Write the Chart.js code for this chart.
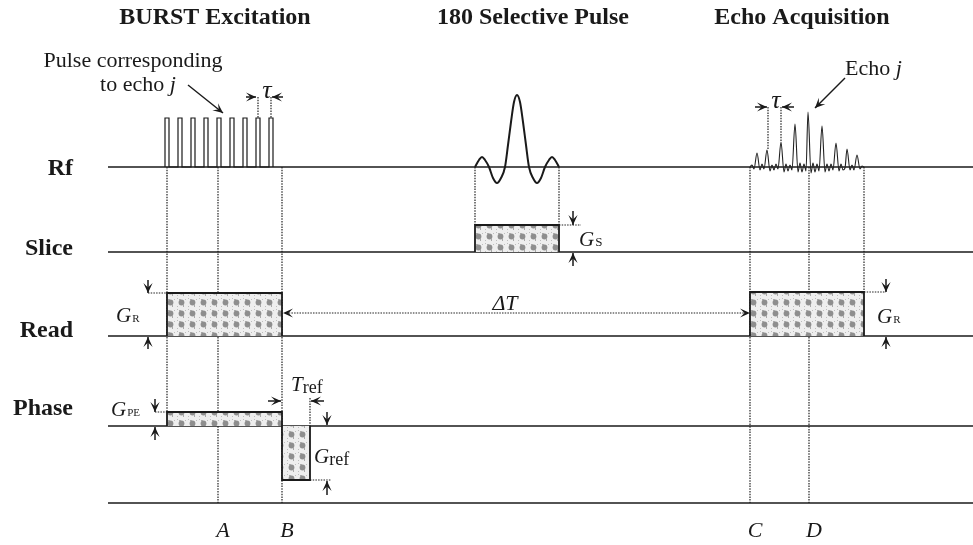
<!DOCTYPE html>
<html>
<head>
<meta charset="utf-8">
<script src="https://cdn.jsdelivr.net/npm/chart.js@4.4.0/dist/chart.umd.min.js"></script>
<style>
  html, body { margin: 0; padding: 0; background: #fff; }
  #wrap { width: 973px; height: 545px; }
</style>
</head>
<body>
<div id="wrap"><canvas id="seqChart"></canvas></div>
<script>
// ---- data (time axis in arbitrary units) ----
const titles = ["BURST Excitation", "180 Selective Pulse", "Echo Acquisition"];
const channels = ["Rf", "Slice", "Read", "Phase"];
const markerLabels = ["A", "B", "C", "D"];
const markerTimes = [218, 282, 750, 809];

// BURST train: 9 hard pulses
const burstTimes = [167, 180, 193, 206, 219, 232, 245, 258, 271];
const burstAmp = 49;

// 180 selective (sinc) pulse
const sincTimes = [475, 479, 482, 485, 489, 493, 497, 501, 505, 508, 511, 514, 517, 520, 523, 526, 529, 533, 537, 541, 545, 549, 552, 555, 559];
const sincAmp =   [0,   7,   10,  7,   0,   -11, -16, -11, 0,   22,  45,  65,  72,  65,  45,  22,  0,   -11, -16, -11, 0,   7,   10,  7,   0];

// echo train
const echoTimes = [750, 752, 754, 757, 760, 762, 764, 767, 770, 772, 774, 776, 778, 781, 784, 786, 788, 790, 792, 795, 798, 800, 802, 804, 806, 808, 811, 813, 815, 817, 819, 822, 825, 827, 829, 831, 833, 836, 839, 841, 843, 845, 847, 850, 852, 854, 857, 860, 862, 864];
const echoAmp =   [0,   2,   -2,  14,  -3,  3,   -2,  17,  -4,  2,   -3,  3,   -2,  25,  -5,  3,   -4,  2,   -3,  43,  -5,  4,   -5,  3,   -4,  55,  -6,  4,   -5,  3,   -4,  41,  -5,  3,   -4,  3,   -3,  24,  -4,  3,   -3,  -1,  18,  -3,  2,   -3,  12,  -2,  1,   0];

// gradient lobes: [start, end, amplitude]
const sliceLobes = [[475, 559, 27]];
const readLobes = [[167, 282, 43], [750, 864, 44]];
const phaseLobes = [[167, 282, 14], [282, 310, -54]];

// ---- layout ----
const L = { rf: 167, slice: 252, read: 336, phase: 426, axis: 503, x0: 108, x1: 973 };
const serif = '"Liberation Serif", "Times New Roman", serif';
const ink = "#1a1a1a";

const ctx = document.getElementById("seqChart").getContext("2d");

function makeStipple() {
  const c = document.createElement("canvas");
  c.width = 11; c.height = 11;
  const g = c.getContext("2d");
  g.fillStyle = "#eeeeee";
  g.fillRect(0, 0, 11, 11);
  g.fillStyle = "#8e8e8e";
  g.beginPath();
  g.arc(5.5, 5.5, 2.9, 0, Math.PI * 2);
  g.fill();
  g.fillStyle = "#a8a8a8";
  g.fillRect(3, 2, 2, 1);
  g.fillRect(7, 8, 1, 2);
  g.fillStyle = "#bdbdbd";
  g.fillRect(1, 1, 1, 1);
  g.fillRect(9, 2, 1, 1);
  g.fillRect(1, 9, 1, 1);
  return ctx.createPattern(c, "repeat");
}
const stipple = makeStipple();

const datasets = [];

function lobeSet(lobes, base) {
  lobes.forEach(([t0, t1, a]) => {
    datasets.push({
      data: [{ x: t0, y: base }, { x: t0, y: base - a }, { x: t1, y: base - a }, { x: t1, y: base }],
      borderColor: ink, borderWidth: 1.8, backgroundColor: stipple,
      fill: { value: base }, tension: 0, order: 1
    });
  });
}
lobeSet(sliceLobes, L.slice);
lobeSet(readLobes, L.read);
lobeSet(phaseLobes, L.phase);

// burst pulses
const burstPts = [];
burstTimes.forEach(t => {
  burstPts.push({ x: t - 2, y: L.rf }, { x: t - 2, y: L.rf - burstAmp },
                { x: t + 2, y: L.rf - burstAmp }, { x: t + 2, y: L.rf });
});
datasets.push({ data: burstPts, borderColor: ink, borderWidth: 1.2, fill: false, tension: 0, order: 1 });

// sinc pulse
datasets.push({
  data: sincTimes.map((t, i) => ({ x: t, y: L.rf - sincAmp[i] })),
  borderColor: ink, borderWidth: 2, fill: false, cubicInterpolationMode: "monotone", order: 1
});

// echoes
datasets.push({
  data: echoTimes.map((t, i) => ({ x: t, y: L.rf - echoAmp[i] })),
  borderColor: "#222", borderWidth: 1.1, fill: false, cubicInterpolationMode: "monotone", order: 1
});

// channel baselines
[L.rf, L.slice, L.read, L.phase, L.axis].forEach(y => {
  datasets.push({ data: [{ x: L.x0, y: y }, { x: L.x1, y: y }], borderColor: ink, borderWidth: 1.6, fill: false, order: 3 });
});

// dotted guides
const vGuides = [
  [167, L.rf, L.phase - 14],
  [218, L.rf, L.axis],
  [282, L.rf, L.axis],
  [475, L.rf, L.slice - 27],
  [559, L.rf, L.slice - 27],
  [750, L.rf, L.axis],
  [809, L.rf, L.axis],
  [864, L.rf, L.read - 44],
  [258, 97, 118], [271, 97, 118],
  [768, 107, 150], [781, 107, 142],
  [310, 398, L.phase]
];
const hGuides = [
  [293, 148, 167], [292, 864, 886], [412, 155, 167],
  [225, 559, 581], [480, 310, 331], [313, 286, 747]
];
vGuides.forEach(([t, y0, y1]) => {
  datasets.push({ data: [{ x: t, y: y0 }, { x: t, y: y1 }], borderColor: "#222", borderWidth: 1.2, borderDash: [1.5, 1.2], fill: false, order: 5 });
});
hGuides.forEach(([y, t0, t1]) => {
  datasets.push({ data: [{ x: t0, y: y }, { x: t1, y: y }], borderColor: "#222", borderWidth: 1.2, borderDash: [1.5, 1.2], fill: false, order: 5 });
});

// arrows: from -> to (head at "to")
const arrows = [
  { f: [148, 280], t: [148, 293] }, { f: [148, 349], t: [148, 337] },
  { f: [886, 279], t: [886, 292] }, { f: [886, 349], t: [886, 337] },
  { f: [155, 399], t: [155, 412] }, { f: [155, 440], t: [155, 427] },
  { f: [573, 211], t: [573, 225] }, { f: [573, 266], t: [573, 253] },
  { f: [327, 412], t: [327, 425] }, { f: [327, 495], t: [327, 481] },
  { f: [268, 401], t: [281, 401] }, { f: [324, 401], t: [311, 401] },
  { f: [246, 97], t: [256, 97] }, { f: [283, 97], t: [272, 97] },
  { f: [755, 107], t: [767, 107] }, { f: [794, 107], t: [782, 107] },
  { f: [290, 313], t: [283, 313], noStem: true }, { f: [740, 313], t: [750, 313], noStem: true },
  { f: [188, 85], t: [223, 113] },
  { f: [845, 78], t: [815, 108] }
];

// texts: runs of [string, font, dx, dy]
const texts = [
  { x: 215, y: 24, align: "center", runs: [[titles[0], "bold 24px " + serif]] },
  { x: 533, y: 24, align: "center", runs: [[titles[1], "bold 24px " + serif]] },
  { x: 802, y: 24, align: "center", runs: [[titles[2], "bold 24px " + serif]] },
  { x: 73, y: 175, align: "right", runs: [[channels[0], "bold 24px " + serif]] },
  { x: 73, y: 255, align: "right", runs: [[channels[1], "bold 24px " + serif]] },
  { x: 73, y: 337, align: "right", runs: [[channels[2], "bold 24px " + serif]] },
  { x: 73, y: 415, align: "right", runs: [[channels[3], "bold 24px " + serif]] },
  { x: 133, y: 67, align: "center", runs: [["Pulse corresponding", "22px " + serif]] },
  { x: 138, y: 91, align: "center", runs: [["to echo ", "22px " + serif], ["j", "italic 22px " + serif]] },
  { x: 845, y: 75, align: "left", runs: [["Echo ", "22px " + serif], ["j", "italic 22px " + serif]] },
  { x: 267, y: 98, align: "center", runs: [["\u03c4", "italic 26px " + serif]] },
  { x: 776, y: 108, align: "center", runs: [["\u03c4", "italic 26px " + serif]] },
  { x: 505, y: 310, align: "center", runs: [["\u0394T", "italic 22px " + serif]] },
  { x: 116, y: 322, align: "left", runs: [["G", "italic 21px " + serif], ["R", "11px " + serif, 1, 0]] },
  { x: 877, y: 323, align: "left", runs: [["G", "italic 21px " + serif], ["R", "11px " + serif, 1, 0]] },
  { x: 579, y: 246, align: "left", runs: [["G", "italic 21px " + serif], ["S", "13px " + serif, 1, 0]] },
  { x: 111, y: 416, align: "left", runs: [["G", "italic 21px " + serif], ["PE", "11px " + serif, 1, 0]] },
  { x: 314, y: 463, align: "left", runs: [["G", "italic 21px " + serif], ["ref", "18px " + serif, 0, 2]] },
  { x: 291, y: 391, align: "left", runs: [["T", "italic 21px " + serif], ["ref", "18px " + serif, 0, 2]] }
];
markerLabels.forEach((m, i) => {
  texts.push({ x: markerTimes[i] + 5, y: 537, align: "center", runs: [[m, "italic 22px " + serif]] });
});

function drawHead(g, x0, y0, x1, y1) {
  const a = Math.atan2(y1 - y0, x1 - x0);
  const len = 10, w = 4.6;
  const dx = Math.cos(a), dy = Math.sin(a);
  g.beginPath();
  g.moveTo(x1, y1);
  g.lineTo(x1 - len * dx - w * dy, y1 - len * dy + w * dx);
  g.lineTo(x1 - 0.55 * len * dx, y1 - 0.55 * len * dy);
  g.lineTo(x1 - len * dx + w * dy, y1 - len * dy - w * dx);
  g.closePath();
  g.fill();
}

const annotate = {
  id: "annotate",
  afterDraw(chart) {
    const g = chart.ctx;
    const sx = v => chart.scales.x.getPixelForValue(v);
    const sy = v => chart.scales.y.getPixelForValue(v);
    g.save();
    g.fillStyle = ink;
    g.strokeStyle = ink;
    g.lineWidth = 1.5;
    arrows.forEach(a => {
      const x0 = sx(a.f[0]), y0 = sy(a.f[1]), x1 = sx(a.t[0]), y1 = sy(a.t[1]);
      if (!a.noStem) {
        g.beginPath();
        g.moveTo(x0, y0);
        g.lineTo(x1, y1);
        g.stroke();
      }
      drawHead(g, x0, y0, x1, y1);
    });
    g.textBaseline = "alphabetic";
    texts.forEach(tx => {
      let total = 0;
      tx.runs.forEach(r => { g.font = r[1]; total += g.measureText(r[0]).width + (r[2] || 0); });
      let x = sx(tx.x);
      if (tx.align === "center") x -= total / 2;
      if (tx.align === "right") x -= total;
      const y = sy(tx.y);
      tx.runs.forEach(r => {
        g.font = r[1];
        x += r[2] || 0;
        g.fillText(r[0], x, y + (r[3] || 0));
        x += g.measureText(r[0]).width;
      });
    });
    g.restore();
  }
};

const chart = new Chart(ctx, {
  type: "line",
  data: { datasets: datasets },
  options: {
    responsive: true,
    maintainAspectRatio: false,
    animation: false,
    layout: { padding: 0 },
    elements: { point: { radius: 0, hoverRadius: 0 } },
    plugins: { legend: { display: false }, tooltip: { enabled: false } },
    events: [],
    scales: {
      x: { type: "linear", min: 0, max: 973, display: false },
      y: { type: "linear", min: 0, max: 545, reverse: true, display: false }
    }
  },
  plugins: [annotate]
});
</script>
</body>
</html>
